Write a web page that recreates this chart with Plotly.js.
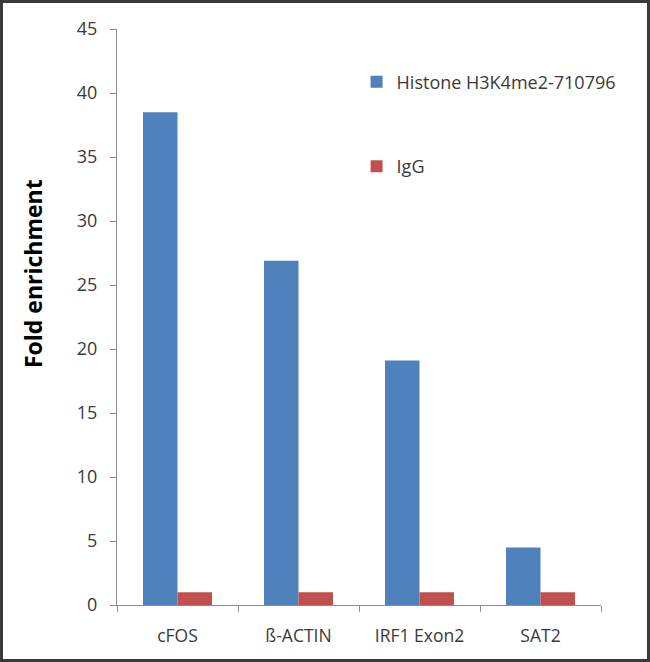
<!DOCTYPE html>
<html>
<head>
<meta charset="utf-8">
<script src="https://cdn.plot.ly/plotly-3.0.1.min.js"></script>
<style>
  html, body { margin: 0; padding: 0; background: #fff; }
  #wrap { position: relative; width: 650px; height: 662px; }
  #chart { width: 650px; height: 662px; }
  #frame { position: absolute; left: 0; top: 0; width: 650px; height: 662px; box-sizing: border-box; border: 3px solid #3a3a3a; pointer-events: none; }
</style>
</head>
<body>
<div id="wrap">
  <div id="chart"></div>
  <div id="frame"></div>
</div>
<script>
const categories = ["cFOS", "ß-ACTIN", "IRF1 Exon2", "SAT2"];
const histoneName = "Histone H3K4me2-710796";
const histoneValues = [38.5, 26.9, 19.1, 4.5];
const iggName = "IgG";
const iggValues = [1.0, 1.0, 1.0, 1.0];
const yTickValues = [0, 5, 10, 15, 20, 25, 30, 35, 40, 45];
const yTitle = "Fold enrichment";

const font = "Open Sans, Liberation Sans, Arial, sans-serif";

const traces = [
  { type: "bar", name: histoneName, x: categories, y: histoneValues,
    marker: { color: "#4F81BD" }, legendgroup: "g1" },
  { type: "bar", name: iggName, x: categories, y: iggValues,
    marker: { color: "#C0504D" }, legendgroup: "g2" }
];

const layout = {
  width: 650, height: 662,
  margin: { l: 117, r: 49, t: 29, b: 57, pad: 0 },
  paper_bgcolor: "#ffffff", plot_bgcolor: "#ffffff",
  font: { family: font, size: 18, color: "#3a3a3a" },
  barmode: "group", bargap: 0.43, bargroupgap: 0,
  showlegend: true,
  legend: {
    x: 0.495, xanchor: "left", y: 0.94, yanchor: "top",
    traceorder: "grouped", tracegroupgap: 58,
    font: { family: font, size: 18, color: "#3a3a3a" },
    bgcolor: "rgba(0,0,0,0)"
  },
  xaxis: {
    type: "category",
    showline: true, linecolor: "#8c8c8c", linewidth: 1,
    ticks: "outside", tickson: "boundaries", ticklen: 6, tickcolor: "#8c8c8c",
    ticklabelstandoff: 15,
    showgrid: false, zeroline: false,
    tickfont: { family: font, size: 17.5, color: "#3a3a3a" }
  },
  yaxis: {
    range: [0, 45], tickvals: yTickValues,
    showline: true, linecolor: "#8c8c8c", linewidth: 1,
    ticks: "outside", ticklen: 6, tickcolor: "#8c8c8c",
    ticklabelstandoff: 9,
    showgrid: false, zeroline: false,
    tickfont: { family: font, size: 18, color: "#3a3a3a" }
  },
  annotations: [{
    text: "<b>" + yTitle + "</b>", textangle: -90,
    xref: "paper", yref: "paper", x: -0.175, y: 0.575,
    xanchor: "center", yanchor: "middle", showarrow: false,
    font: { family: font, size: 23, color: "#000000" }
  }]
};

Plotly.newPlot("chart", traces, layout, { displayModeBar: false, staticPlot: true });
</script>
</body>
</html>
